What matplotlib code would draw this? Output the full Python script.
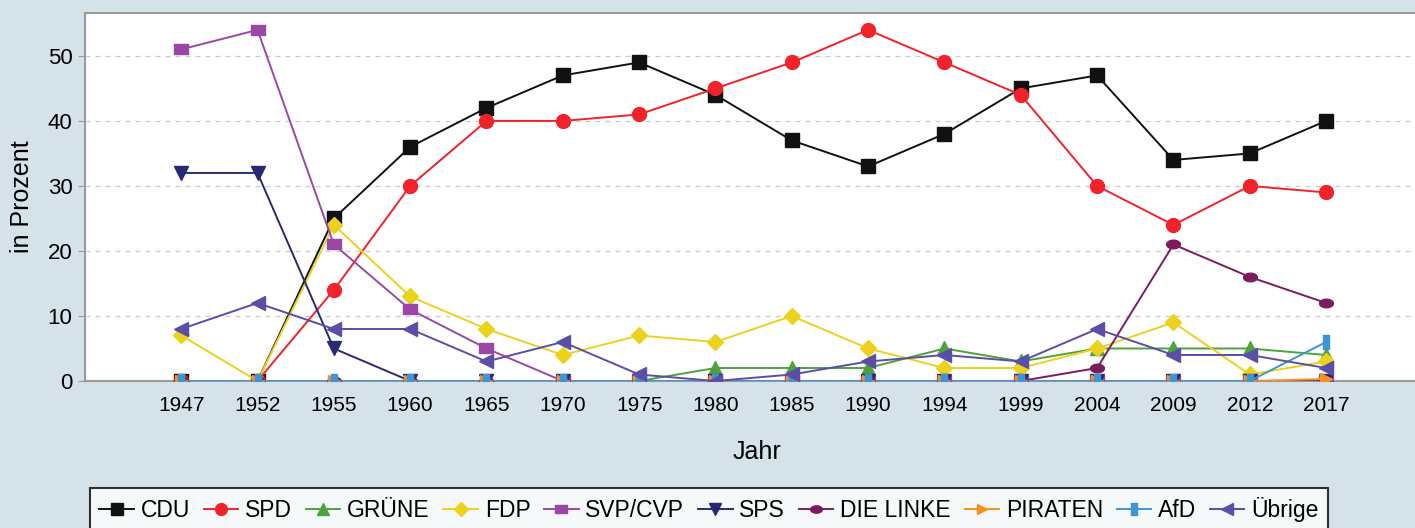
import matplotlib
matplotlib.use("Agg")
import matplotlib.pyplot as plt
import numpy as np
from matplotlib.path import Path

plt.rcParams['font.family'] = ['Liberation Sans', 'DejaVu Sans']

years = ["1947", "1952", "1955", "1960", "1965", "1970", "1975", "1980",
         "1985", "1990", "1994", "1999", "2004", "2009", "2012", "2017"]

cdu      = [0, 0, 25, 36, 42, 47, 49, 44, 37, 33, 38, 45, 47, 34, 35, 40]
spd      = [0, 0, 14, 30, 40, 40, 41, 45, 49, 54, 49, 44, 30, 24, 30, 29]
gruene   = [0, 0, 0, 0, 0, 0, 0, 2, 2, 2, 5, 3, 5, 5, 5, 4]
fdp      = [7, 0, 24, 13, 8, 4, 7, 6, 10, 5, 2, 2, 5, 9, 1, 3]
svp_cvp  = [51, 54, 21, 11, 5, 0, 0, 0, 0, 0, 0, 0, 0, 0, 0, 0]
sps      = [32, 32, 5, 0, 0, 0, 0, 0, 0, 0, 0, 0, 0, 0, 0, 0]
linke    = [0, 0, 0, 0, 0, 0, 0, 0, 0, 0, 0, 0, 2, 21, 16, 12]
piraten  = [0, 0, 0, 0, 0, 0, 0, 0, 0, 0, 0, 0, 0, 0, 0, 0.3]
afd      = [0, 0, 0, 0, 0, 0, 0, 0, 0, 0, 0, 0, 0, 0, 0, 6]
uebrige  = [8, 12, 8, 8, 3, 6, 1, 0, 1, 3, 4, 3, 8, 4, 4, 2]

labels = ["CDU", "SPD", "GRÜNE", "FDP", "SVP/CVP", "SPS", "DIE LINKE",
          "PIRATEN", "AfD", "Übrige"]
series = [cdu, spd, gruene, fdp, svp_cvp, sps, linke, piraten, afd, uebrige]
colors = ["#111111", "#f2222a", "#4ca33c", "#ecd21c", "#9a48a6", "#272a72",
          "#7c1c5c", "#f7901e", "#3c95d6", "#5a4ea6"]

# custom marker shapes
wide_rect = Path([(-1, -0.65), (1, -0.65), (1, 0.65), (-1, 0.65), (-1, -0.65)],
                 [Path.MOVETO, Path.LINETO, Path.LINETO, Path.LINETO, Path.CLOSEPOLY])
tall_rect = Path([(-0.5, -1), (0.5, -1), (0.5, 1), (-0.5, 1), (-0.5, -1)],
                 [Path.MOVETO, Path.LINETO, Path.LINETO, Path.LINETO, Path.CLOSEPOLY])
t = np.linspace(0, 2 * np.pi, 30)
oval = Path(np.column_stack([np.cos(t), 0.62 * np.sin(t)]))

markers = ["s", "o", "^", "D", wide_rect, "v", oval, ">", tall_rect, "<"]
msizes = [10, 10, 10, 8, 10, 10, 10, 9, 10, 10]

fig = plt.figure(figsize=(14.15, 5.28), dpi=100)
fig.patch.set_facecolor("#d6e2ea")
ax = fig.add_axes([85 / 1415, 1 - 381 / 528, 1 - 85 / 1415 + 0.01, (381 - 13) / 528])
ax.set_facecolor("white")

x = np.arange(len(years))
for vals, lab, col, mk, ms in zip(series, labels, colors, markers, msizes):
    ax.plot(x, vals, color=col, marker=mk, markersize=ms, linewidth=1.4,
            label=lab, markeredgecolor=col, zorder=3)

ax.set_xlim(-1.26, 16.35)
ax.set_ylim(0, 56.6)
ax.set_xticks(x)
ax.set_xticklabels(years, fontsize=15)
ax.set_yticks([0, 10, 20, 30, 40, 50])
ax.tick_params(axis='y', labelsize=16, length=5, color="#999999", pad=4)
ax.tick_params(axis='x', length=0, pad=11)
ax.yaxis.grid(True, linestyle=(0, (4, 4)), color="#cccccc", linewidth=0.9)
ax.set_axisbelow(True)
for s in ["left", "top", "bottom"]:
    ax.spines[s].set_color("#9a9a9a")
    ax.spines[s].set_linewidth(1.5)
ax.spines["right"].set_visible(False)

ax.set_ylabel("in Prozent", fontsize=18, labelpad=10)
ax.set_xlabel("Jahr", fontsize=18, labelpad=18)

leg = fig.legend(loc="upper center", bbox_to_anchor=(709 / 1415, 1 - 488 / 528),
                 ncol=10, fontsize=16.5, frameon=True, fancybox=False,
                 edgecolor="black", handlelength=1.5, handletextpad=0.3,
                 columnspacing=0.6, borderpad=0.4, borderaxespad=0,
                 markerscale=0.85)
leg.get_frame().set_linewidth(1.5)

fig.savefig("out.png", dpi=100, facecolor=fig.get_facecolor())
